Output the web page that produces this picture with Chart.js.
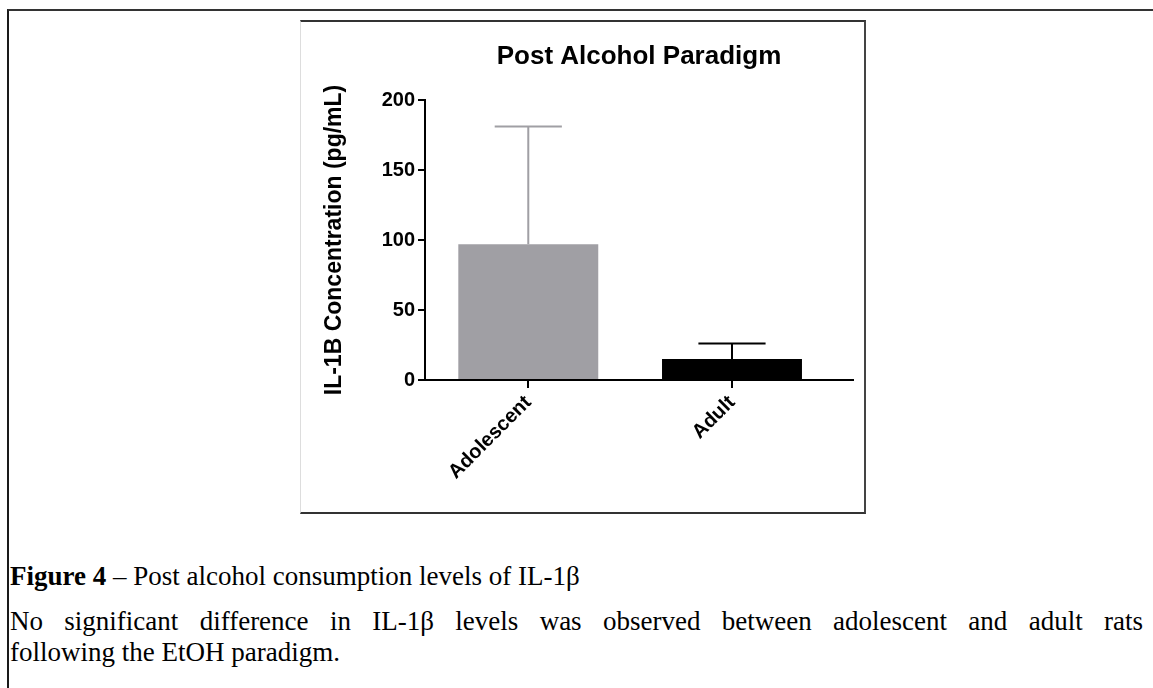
<!DOCTYPE html>
<html>
<head>
<meta charset="utf-8">
<script src="https://cdn.jsdelivr.net/npm/chart.js@4"></script>
<style>
  html, body { margin: 0; padding: 0; background: #fff; overflow: hidden; }
  body { width: 1153px; height: 688px; position: relative; }
  #outer {
    position: absolute; left: 7px; top: 9px; width: 1200px; height: 800px;
    border-left: 2px solid #1a1a1a; border-top: 2px solid #333;
  }
  #frame {
    position: absolute; left: 300px; top: 20px; width: 563px; height: 490px;
    border-top: 2px solid #333; border-right: 2px solid #444;
    border-bottom: 2px solid #333; border-left: 1px solid #ddd;
  }
  #wrap { position: absolute; left: 0; top: -2px; width: 565px; height: 492px; }
  .caption {
    position: absolute; left: 10px; width: 1133px;
    font-family: "Liberation Serif", "Times New Roman", serif;
    font-size: 27px; color: #000; line-height: 31px;
  }
  #cap1 { top: 561px; }
  #cap2 { top: 606px; }
  #cap2 .l1 { display: block; text-align: justify; text-align-last: justify; white-space: nowrap; }
  #cap2 .l2 { display: block; }
</style>
</head>
<body>
<div id="outer"></div>
<div id="frame"><div id="wrap"><canvas id="barChart"></canvas></div></div>
<div class="caption" id="cap1"><b>Figure 4</b> – Post alcohol consumption levels of IL-1β</div>
<div class="caption" id="cap2"><span class="l1">No significant difference in IL-1β levels was observed between adolescent and adult rats</span><span class="l2">following the EtOH paradigm.</span></div>

<script>
const groups = ['Adolescent', 'Adult'];
const means = [97, 15];
const sems = [84, 11];
const barColors = ['#a09fa4', '#000000'];
const errColors = ['#a09fa4', '#000000'];
const yTicks = [0, 50, 100, 150, 200];

const font = 'Liberation Sans, Arial, sans-serif';

// upward-only error bars, like the prism plot
const errorBars = {
  id: 'errorBars',
  afterDatasetsDraw(chart) {
    const c = chart.ctx;
    const meta = chart.getDatasetMeta(0);
    const y = chart.scales.y;
    meta.data.forEach((bar, i) => {
      const top = y.getPixelForValue(means[i] + sems[i]);
      const half = bar.width * 0.24;
      c.save();
      c.strokeStyle = errColors[i];
      c.lineWidth = 2;
      c.beginPath();
      c.moveTo(bar.x, bar.y);
      c.lineTo(bar.x, top);
      c.moveTo(bar.x - half, top);
      c.lineTo(bar.x + half, top);
      c.stroke();
      c.restore();
    });
  }
};

const ctx = document.getElementById('barChart').getContext('2d');

new Chart(ctx, {
  type: 'bar',
  data: {
    datasets: [{
      data: means.map((v, i) => ({ x: i, y: v })),
      backgroundColor: barColors,
      borderWidth: 0,
      barPercentage: 0.687,
      categoryPercentage: 1
    }]
  },
  options: {
    responsive: true,
    maintainAspectRatio: false,
    animation: false,
    layout: { padding: { left: 0, right: 13, top: 0, bottom: 0 } },
    plugins: {
      legend: { display: false },
      tooltip: { enabled: false },
      title: {
        display: true,
        text: 'Post Alcohol Paradigm',
        fullSize: false,
        color: '#000',
        font: { family: font, size: 26, weight: 'bold' },
        padding: { top: 21.4, bottom: 27.4 }
      }
    },
    scales: {
      x: {
        type: 'linear',
        min: -0.507,
        max: 1.594,
        offset: false,
        afterBuildTicks: s => { s.ticks = groups.map((g, i) => ({ value: i })); },
        afterFit: s => { s.height = 132; },
        ticks: {
          callback: v => groups[v],
          color: '#000',
          font: { family: font, size: 20, weight: 'bold' },
          minRotation: 45,
          maxRotation: 45,
          padding: 3
        },
        grid: {
          offset: false,
          drawOnChartArea: false,
          drawTicks: true,
          tickLength: 8,
          color: '#000',
          lineWidth: 2
        },
        border: { display: true, color: '#000', width: 2 }
      },
      y: {
        min: 0,
        max: 200,
        afterBuildTicks: s => { s.ticks = yTicks.map(v => ({ value: v })); },
        afterFit: s => { s.width = 124; },
        ticks: {
          color: '#000',
          font: { family: font, size: 20, weight: 'bold' },
          padding: 3
        },
        grid: {
          drawOnChartArea: false,
          drawTicks: true,
          tickLength: 7,
          color: '#000',
          lineWidth: 2
        },
        border: { display: true, color: '#000', width: 2 },
        title: {
          display: true,
          text: 'IL-1B Concentration (pg/mL)',
          color: '#000',
          font: { family: font, size: 23, weight: 'bold' },
          padding: { top: 20, bottom: 0 }
        }
      }
    }
  },
  plugins: [errorBars]
});
</script>
</body>
</html>
